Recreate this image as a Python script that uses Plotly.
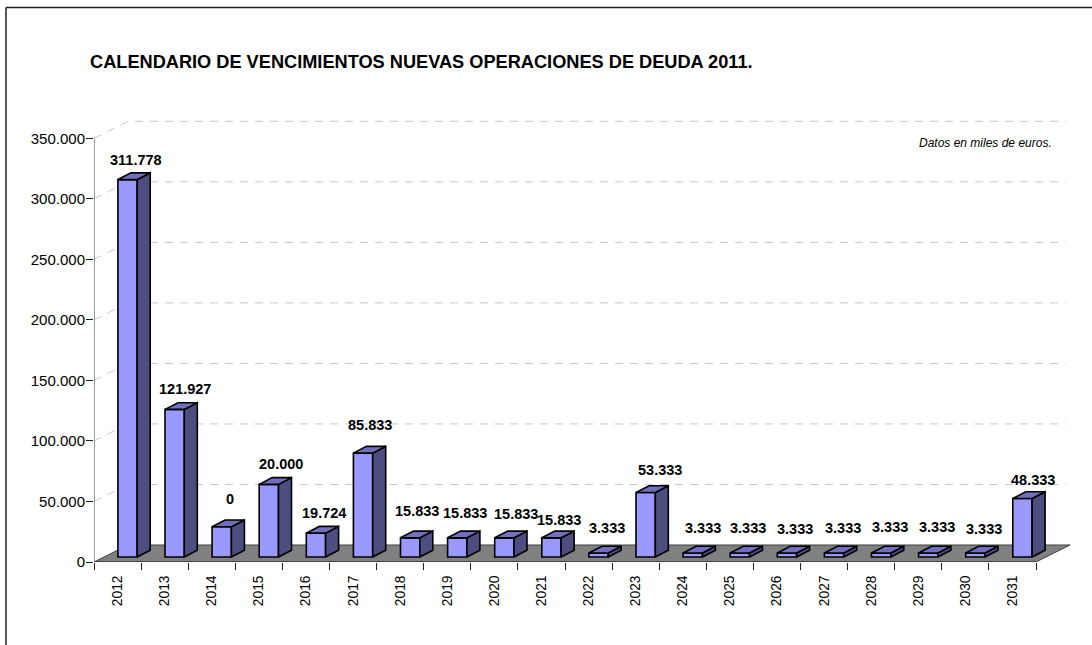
import plotly.graph_objects as go

# ---- data ----
years = list(range(2012, 2032))
bar_values = [311778, 121927, 25000, 60000, 19724, 85833, 15833, 15833, 15833, 15833,
              3333, 53333, 3333, 3333, 3333, 3333, 3333, 3333, 3333, 48333]
bar_labels = ["311.778", "121.927", "0", "20.000", "19.724", "85.833", "15.833", "15.833",
              "15.833", "15.833", "3.333", "53.333", "3.333", "3.333", "3.333", "3.333",
              "3.333", "3.333", "3.333", "48.333"]
y_ticks = [0, 50000, 100000, 150000, 200000, 250000, 300000, 350000]

# ---- label nudges (px relative to the top of each bar's front face) ----
label_dx = [8, 10, 8, 12, 8, 7, 7, 8, 12, 8, 8, 14, 10, 8, 8, 9, 9, 9, 9, 11]
label_dy = [20, 20, 28, 20, 20, 28, 27, 25, 24, 18, 25, 22, 25, 25, 24, 25, 26, 26, 24, 18]

# ---- geometry (page pixels) ----
W, H = 1092, 645
PLOT_L, PLOT_R, PLOT_T, PLOT_B = 94, 1072, 115, 561.7
PX_PER_YEAR = 47.1
PX_PER_UNIT = 423.4 / 350000
XMIN = 2011.5
XMAX = XMIN + (PLOT_R - PLOT_L) / PX_PER_YEAR
YMAX = (PLOT_B - PLOT_T) / PX_PER_UNIT


def ux(px):
    return px / PX_PER_YEAR


def uy(px):
    return px / PX_PER_UNIT


wall_dx, wall_dy = ux(34), uy(17)      # depth of chart walls
bar_dx, bar_dy = ux(13), uy(6.7)       # depth of bars
bar_w = ux(19.3)
shift_x, base_y = ux(10), uy(5)        # bars stand in the middle of the floor
x_end = years[-1] + 0.5
FONT = "Liberation Sans, Arial, sans-serif"
EDGE = dict(color="#000000", width=1.6)

shapes = []
# floor
shapes.append(dict(
    type="path", layer="below", xref="x", yref="y",
    path=f"M {XMIN} 0 L {XMIN + wall_dx} {wall_dy} L {x_end + wall_dx} {wall_dy} L {x_end} 0 Z",
    fillcolor="#808080", line=dict(color="#404040", width=1)))
# gridlines: side wall diagonal + back wall
for v in y_ticks[1:]:
    shapes.append(dict(
        type="path", layer="below", xref="x", yref="y",
        path=f"M {XMIN} {v} L {XMIN + wall_dx} {v + wall_dy} L {x_end + wall_dx - ux(4)} {v + wall_dy}",
        line=dict(color="#c8c8c8", width=1, dash="8px,7px")))
# frame of the picture
frame = dict(type="line", xref="paper", yref="paper", line=dict(color="#202020", width=1.5))
fx = lambda px: (px - PLOT_L) / (PLOT_R - PLOT_L)
fy = lambda px: (PLOT_B - px) / (PLOT_B - PLOT_T)
shapes.append({**frame, "x0": fx(6), "x1": fx(6), "y0": fy(7.5), "y1": fy(H)})
shapes.append({**frame, "x0": fx(6), "x1": fx(W), "y0": fy(7.5), "y1": fy(7.5)})

fig = go.Figure()

# y axis line
fig.add_trace(go.Scatter(x=[XMIN, XMIN], y=[0, y_ticks[-1]], mode="lines", cliponaxis=False,
                         line=dict(color="#808080", width=1.5), hoverinfo="skip", showlegend=False))
# front edge of the floor
fig.add_trace(go.Scatter(x=[XMIN, x_end], y=[0, 0], mode="lines", cliponaxis=False,
                         line=dict(color="#303030", width=1.2), hoverinfo="skip", showlegend=False))

# front faces
fig.add_trace(go.Bar(x=years, y=bar_values, base=base_y, width=bar_w,
                     offset=shift_x - bar_w / 2,
                     marker=dict(color="#9999ff", line=dict(color="#000000", width=1.6)),
                     showlegend=False, hoverinfo="x+y"))

# side and top faces, derived from the same values
side_x, side_y, top_x, top_y = [], [], [], []
for yr, v in zip(years, bar_values):
    right = yr + shift_x + bar_w / 2
    left = right - bar_w
    t = v + base_y
    side_x += [right, right + bar_dx, right + bar_dx, right, right, None]
    side_y += [base_y, base_y + bar_dy, t + bar_dy, t, base_y, None]
    top_x += [left, left + bar_dx, right + bar_dx, right, left, None]
    top_y += [t, t + bar_dy, t + bar_dy, t, t, None]
fig.add_trace(go.Scatter(x=side_x, y=side_y, mode="lines", fill="toself", fillcolor="#4d4d80",
                         line=EDGE, hoverinfo="skip", showlegend=False))
fig.add_trace(go.Scatter(x=top_x, y=top_y, mode="lines", fill="toself", fillcolor="#7070bf",
                         line=EDGE, hoverinfo="skip", showlegend=False))

annotations = [
    dict(x=yr, y=v + base_y, text=lab, xref="x", yref="y", xshift=shift_x * PX_PER_YEAR + dx, yshift=dy,
         showarrow=False, xanchor="center", yanchor="middle",
         font=dict(family=FONT, size=14.5, color="#000000", weight="bold"))
    for yr, v, lab, dx, dy in zip(years, bar_values, bar_labels, label_dx, label_dy)
]
annotations.append(dict(
    x=fx(1054), y=fy(143), xref="paper", yref="paper", text="<i>Datos en miles de euros.</i>",
    showarrow=False, xanchor="right", yanchor="middle",
    font=dict(family=FONT, size=12, color="#000000")))
annotations.append(dict(
    x=fx(88), y=fy(62), xref="paper", yref="paper",
    text="<b>CALENDARIO DE VENCIMIENTOS NUEVAS OPERACIONES DE DEUDA 2011.</b>",
    showarrow=False, xanchor="left", yanchor="middle",
    font=dict(family=FONT, size=18.2, color="#000000")))

fig.update_layout(
    width=W, height=H,
    margin=dict(l=PLOT_L, r=W - PLOT_R, t=PLOT_T, b=H - PLOT_B, pad=0, autoexpand=False),
    paper_bgcolor="#ffffff", plot_bgcolor="rgba(0,0,0,0)",
    separators=",.",
    shapes=shapes, annotations=annotations,
    showlegend=False,
    font=dict(family=FONT, color="#000000"),
    xaxis=dict(range=[XMIN, XMAX], tickmode="array", tickvals=years, ticktext=[str(y) for y in years],
               tickangle=-90, ticks="outside", ticklen=7, tickcolor="rgba(0,0,0,0)",
               tickfont=dict(size=13.8), showgrid=False, zeroline=False, showline=False,
               minor=dict(tickmode="array", tickvals=[XMIN + i for i in range(len(years) + 1)],
                          ticks="outside", ticklen=7, tickcolor="#202020", tickwidth=1, showgrid=False)),
    yaxis=dict(range=[0, YMAX], tickmode="array", tickvals=y_ticks, tickformat=",d",
               ticks="outside", ticklen=7, tickcolor="#202020", tickwidth=1, ticklabelstandoff=-2,
               tickfont=dict(size=15), showgrid=False, zeroline=False, showline=False),
)

fig.write_html("out.html", config=dict(displayModeBar=False),
               post_script="document.body.style.margin='0';document.body.style.overflow='hidden';")
